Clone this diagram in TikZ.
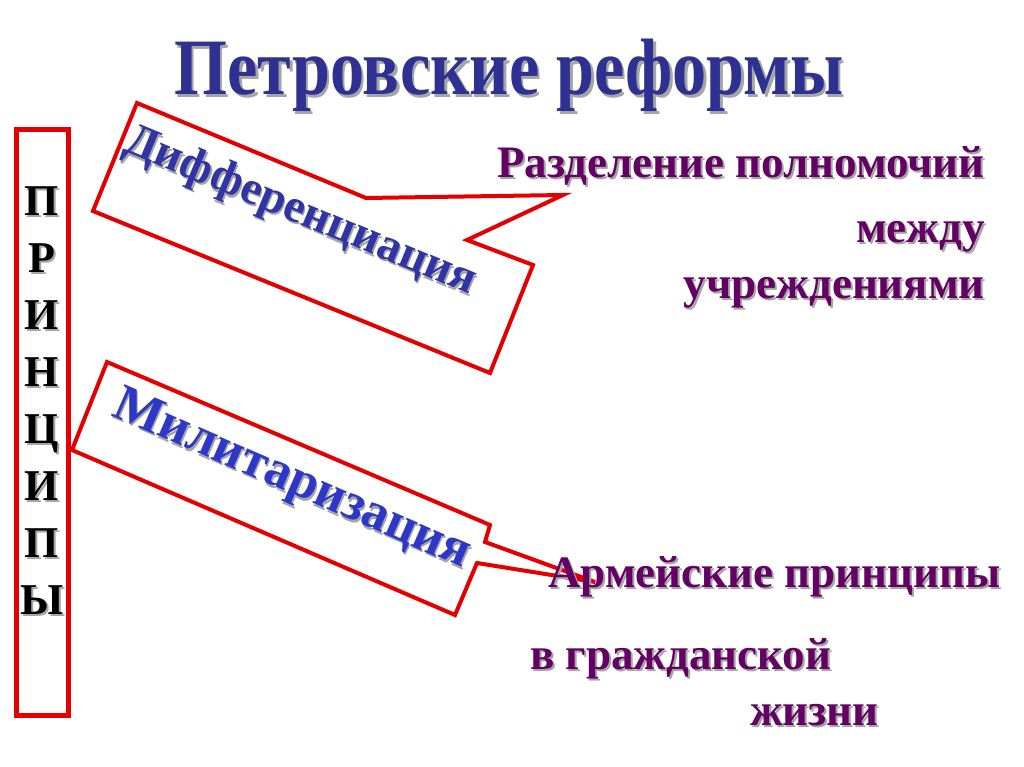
\documentclass[tikz,border=0pt]{standalone}
\usepackage{fontspec}
\setmainfont{Liberation Serif}
\definecolor{titleblue}{RGB}{46,49,146}
\definecolor{diffblue}{RGB}{48,52,165}
\definecolor{milblue}{RGB}{45,55,200}
\definecolor{plumtxt}{RGB}{100,0,100}
\definecolor{boxred}{RGB}{228,0,0}
\definecolor{shadowgray}{RGB}{165,165,165}
\newcommand\shd[2][2pt]{\leavevmode\rlap{\kern#1\raisebox{-#1}{\textcolor{shadowgray}{#2}}}#2}
\tikzset{
  titletext/.style={font=\bfseries\fontsize{80}{80}\selectfont, text=titleblue, inner sep=0pt},
  plumtext/.style={font=\bfseries\fontsize{45}{45}\selectfont, text=plumtxt, inner sep=0pt},
  lettertext/.style={font=\bfseries\fontsize{44}{44}\selectfont, text=black, inner sep=0pt},
  calloutbox/.style={draw=boxred, line width=4pt, fill=white, line join=miter},
  framebox/.style={draw=boxred, line width=5pt, inner sep=0pt},
}
\begin{document}
\begin{tikzpicture}[x=1pt,y=-1pt]
\useasboundingbox[fill=white] (0,0) rectangle (1024,767);

% title
\node[titletext, anchor=base, xscale=0.853] (title) at (509,95) {\shd[3pt]{Петровские реформы}};

% principles frame
\node[framebox, minimum width=52pt, minimum height=585pt] (frame) at (42,422.5) {};
\foreach \l [count=\i from 0] in {П,Р,И,Н,Ц,И,П,Ы}{
  \node[lettertext, anchor=base] (let\i) at (42,{215+57.14*\i}) {\shd{\l}};
}

% callout shapes
\coordinate (d1) at (137,103);
\coordinate (d2) at (366,198);
\coordinate (dtip) at (563,195);
\coordinate (d3) at (467,240);
\coordinate (d4) at (533,265);
\coordinate (d5) at (490,373);
\coordinate (d6) at (93,211);
\draw[calloutbox] (d1) -- (d2) -- (dtip) -- (d3) -- (d4) -- (d5) -- (d6) -- cycle;

\coordinate (m1) at (107,362);
\coordinate (m2) at (490,525);
\coordinate (m3) at (485,542);
\coordinate (mtip) at (595,582);
\coordinate (m4) at (477,563);
\coordinate (m5) at (455,615);
\coordinate (m6) at (72,450);
\draw[calloutbox] (m1) -- (m2) -- (m3) -- (mtip) -- (m4) -- (m5) -- (m6) -- cycle;

\node[font=\bfseries\fontsize{47}{47}\selectfont, text=diffblue, inner sep=0pt, rotate=-22.5] (diff) at (300,213) {\shd{Дифференциация}};
\node[font=\bfseries\fontsize{52}{52}\selectfont, text=milblue, inner sep=0pt, rotate=-23.5] (mil) at (291,482) {\shd{Милитаризация}};

% right texts
\node[plumtext, anchor=base east] (r1) at (985,178) {\shd{Разделение полномочий}};
\node[plumtext, anchor=base east] (r2) at (985,242) {\shd{между}};
\node[plumtext, anchor=base east] (r3) at (985,298) {\shd{учреждениями}};
\node[plumtext, anchor=base west] (a1) at (548,587) {\shd{Армейские принципы}};
\node[plumtext, anchor=base west] (a2) at (530,669) {\shd{в гражданской}};
\node[plumtext, anchor=base west] (a3) at (750,725) {\shd{жизни}};
\end{tikzpicture}
\end{document}
